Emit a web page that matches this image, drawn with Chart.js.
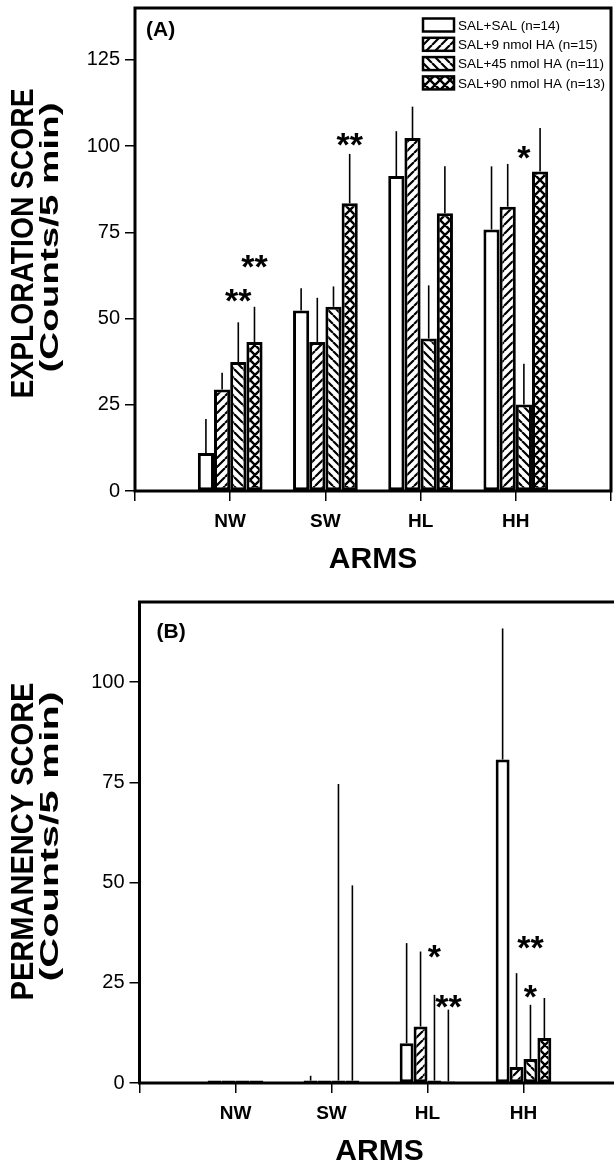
<!DOCTYPE html>
<html>
<head>
<meta charset="utf-8">
<script src="https://cdn.jsdelivr.net/npm/chart.js@4.4.0/dist/chart.umd.min.js"></script>
<style>
  html, body { margin: 0; padding: 0; background: #fff; overflow: hidden; width: 614px; height: 1166px; }
  canvas { position: absolute; left: 0; }
  #topChart { top: 0; }
  #bottomChart { top: 590px; }
</style>
</head>
<body>
<canvas id="topChart" width="640" height="590"></canvas>
<canvas id="bottomChart" width="640" height="576"></canvas>
<script>
// categories and groups
const arms = ['NW', 'SW', 'HL', 'HH'];
const groupLabels = ['SAL+SAL (n=14)', 'SAL+9 nmol HA (n=15)', 'SAL+45 nmol HA (n=11)', 'SAL+90 nmol HA (n=13)'];

// (A) exploration score, mean and upper error
const salSalExp = [11, 52.3, 91.3, 75.8];
const ha9Exp = [29.4, 43.2, 102.3, 82.4];
const ha45Exp = [37.4, 53.4, 44.2, 25.1];
const ha90Exp = [43.2, 83.4, 80.5, 92.6];
const salSalExpErr = [9.9, 6.5, 13, 18.3];
const ha9ExpErr = [4.9, 12.8, 9.1, 12.4];
const ha45ExpErr = [11.5, 5.9, 15.4, 11.8];
const ha90ExpErr = [10.2, 14.3, 13.6, 12.6];
const expTicks = [0, 25, 50, 75, 100, 125];

// (B) permanency score, mean and upper error
const salSalPerm = [0.6, 0.6, 9.9, 80.7];
const ha9Perm = [0.6, 0.6, 14.1, 4];
const ha45Perm = [0.6, 0.6, 0.6, 6];
const ha90Perm = [0.6, 0.6, 0.4, 11.2];
const salSalPermErr = [0, 1.2, 25, 32.7];
const ha9PermErr = [0, 0, 18.7, 23.4];
const ha45PermErr = [0, 74, 21.4, 13.5];
const ha90PermErr = [0, 48.7, 17.9, 10];
const permTicks = [0, 25, 50, 75, 100];

// significance marks: arm, group index, height in score units
const starsExp = [
  { arm: 'NW', group: 2, y: 56.6, text: '**' },
  { arm: 'NW', group: 3, y: 66.5, text: '**' },
  { arm: 'SW', group: 3, y: 102, text: '**' },
  { arm: 'HH', group: 2, y: 98, text: '*' }
];
const starsPerm = [
  { arm: 'HL', group: 2, y: 32.8, text: '*' },
  { arm: 'HL', group: 3, y: 20.3, text: '**' },
  { arm: 'HH', group: 2, y: 35, text: '**' },
  { arm: 'HH', group: 2, y: 22.8, text: '*' }
];

const FONT = '"Liberation Sans", Arial, Helvetica, sans-serif';
Chart.defaults.font.family = FONT;
Chart.defaults.color = '#000';

function hatch(kind) {
  const s = kind === 'cross' ? 10 : 9;
  const c = document.createElement('canvas');
  c.width = s; c.height = s;
  const g = c.getContext('2d');
  g.fillStyle = '#fff';
  g.fillRect(0, 0, s, s);
  g.strokeStyle = '#000';
  g.lineWidth = kind === 'cross' ? 2.4 : 2.2;
  g.beginPath();
  for (let k = -1; k <= 1; k++) {
    if (kind !== 'back') { g.moveTo(k * s, s); g.lineTo(k * s + s, 0); }
    if (kind !== 'fwd') { g.moveTo(k * s, 0); g.lineTo(k * s + s, s); }
  }
  g.stroke();
  return g.createPattern(c, 'repeat');
}
const fills = ['#ffffff', hatch('fwd'), hatch('back'), hatch('cross')];

function buildDatasets(series, errors) {
  return groupLabels.map((label, i) => ({
    label,
    data: [null, ...series[i], null],
    errorBars: [null, ...errors[i], null],
    backgroundColor: fills[i],
    borderColor: '#000',
    borderWidth: 3,
    borderSkipped: false
  }));
}

// plot frame
const framePlugin = {
  id: 'frame',
  afterDatasetsDraw(chart) {
    const { ctx, chartArea: a } = chart;
    ctx.save();
    ctx.strokeStyle = '#000';
    ctx.lineWidth = 3;
    ctx.strokeRect(a.left, a.top, a.right - a.left, a.bottom - a.top);
    ctx.restore();
  }
};

// upper error lines
const errorPlugin = {
  id: 'errorLines',
  afterDatasetsDraw(chart) {
    const ctx = chart.ctx, y = chart.scales.y;
    ctx.save();
    ctx.strokeStyle = '#000';
    ctx.lineWidth = 1.6;
    chart.data.datasets.forEach((ds, i) => {
      chart.getDatasetMeta(i).data.forEach((bar, j) => {
        const v = ds.data[j], e = ds.errorBars[j];
        if (v == null || !e) return;
        ctx.beginPath();
        ctx.moveTo(bar.x, y.getPixelForValue(v));
        ctx.lineTo(bar.x, y.getPixelForValue(v + e));
        ctx.stroke();
      });
    });
    ctx.restore();
  }
};

function starPlugin(items) {
  return {
    id: 'stars',
    afterDatasetsDraw(chart) {
      const ctx = chart.ctx, y = chart.scales.y;
      ctx.save();
      ctx.fillStyle = '#000';
      ctx.font = 'bold 34px ' + FONT;
      ctx.textAlign = 'center';
      ctx.textBaseline = 'alphabetic';
      items.forEach(s => {
        const bar = chart.getDatasetMeta(s.group).data[chart.data.labels.indexOf(s.arm)];
        const m = ctx.measureText(s.text);
        const cy = y.getPixelForValue(s.y);
        ctx.fillText(s.text, bar.x, cy + (m.actualBoundingBoxAscent - m.actualBoundingBoxDescent) / 2);
      });
      ctx.restore();
    }
  };
}

function legendPlugin(x, y, row) {
  return {
    id: 'boxLegend',
    afterDraw(chart) {
      const ctx = chart.ctx;
      ctx.save();
      chart.data.datasets.forEach((ds, i) => {
        const cy = y + i * row;
        ctx.fillStyle = ds.backgroundColor;
        ctx.fillRect(x, cy - 6.5, 31, 13);
        ctx.strokeStyle = '#000';
        ctx.lineWidth = 2.5;
        ctx.strokeRect(x, cy - 6.5, 31, 13);
        ctx.fillStyle = '#000';
        ctx.font = '13.5px ' + FONT;
        ctx.textBaseline = 'middle';
        ctx.fillText(ds.label, x + 35, cy + 1);
      });
      ctx.restore();
    }
  };
}

function vText(ctx, text, font, baseX, cy, len) {
  ctx.save();
  ctx.translate(baseX, cy);
  ctx.rotate(-Math.PI / 2);
  ctx.font = font;
  const w = ctx.measureText(text).width;
  ctx.scale(len / w, 1);
  ctx.textAlign = 'center';
  ctx.textBaseline = 'alphabetic';
  ctx.fillText(text, 0, 0);
  ctx.restore();
}

function titlePlugin(t) {
  return {
    id: 'titles',
    afterDraw(chart) {
      const { ctx, chartArea: a } = chart;
      ctx.save();
      ctx.fillStyle = '#000';
      const cy = (a.top + a.bottom) / 2;
      vText(ctx, t.line1, 'bold 31px ' + FONT, 33, cy + t.shift1, t.len1);
      vText(ctx, t.line2, 'bold 26px ' + FONT, 58, cy + t.shift2, t.len2);
      ctx.font = 'bold 30px ' + FONT;
      ctx.textAlign = 'center';
      ctx.textBaseline = 'alphabetic';
      const m = ctx.measureText('ARMS');
      ctx.fillText('ARMS', (a.left + a.right) / 2, a.bottom + 67 + m.actualBoundingBoxAscent / 2);
      ctx.font = 'bold 21px ' + FONT;
      ctx.textAlign = 'left';
      ctx.textBaseline = 'middle';
      ctx.fillText(t.panel, a.left + t.panelDx, a.top + t.panelDy);
      ctx.restore();
    }
  };
}

function makeChart(id, o) {
  return new Chart(document.getElementById(id), {
    type: 'bar',
    data: { labels: ['', ...arms, ''], datasets: buildDatasets(o.series, o.errors) },
    options: {
      responsive: false,
      animation: false,
      devicePixelRatio: 1,
      layout: { padding: o.padding },
      datasets: { bar: { categoryPercentage: o.catPct, barPercentage: 1 } },
      plugins: { legend: { display: false }, tooltip: { enabled: false } },
      scales: {
        x: {
          offset: false,
          ticks: { color: '#000', font: { size: 19, weight: 'bold' }, autoSkip: false, maxRotation: 0, padding: 9 },
          grid: { offset: false, drawOnChartArea: false, tickLength: 10, color: '#000', lineWidth: 1.5 },
          border: { display: false },
          afterFit(s) { s.height = o.xHeight; s.paddingLeft = 0; s.paddingRight = 0; }
        },
        y: {
          min: 0,
          max: o.yMax,
          afterBuildTicks(s) { s.ticks = o.ticks.map(v => ({ value: v })); },
          ticks: { color: '#000', font: { size: 20 }, padding: 5 },
          grid: { drawOnChartArea: false, tickLength: 10, color: '#000', lineWidth: 1.5 },
          border: { display: false },
          afterFit(s) { s.width = o.yWidth; s.paddingTop = 0; s.paddingBottom = 0; }
        }
      }
    },
    plugins: o.plugins
  });
}

makeChart('topChart', {
  series: [salSalExp, ha9Exp, ha45Exp, ha90Exp],
  errors: [salSalExpErr, ha9ExpErr, ha45ExpErr, ha90ExpErr],
  ticks: expTicks,
  yMax: 140,
  catPct: 0.68,
  padding: { top: 8, right: 29, left: 0, bottom: 0 },
  yWidth: 135,
  xHeight: 99,
  plugins: [errorPlugin, framePlugin, starPlugin(starsExp), legendPlugin(423, 25, 19.3),
    titlePlugin({ line1: 'EXPLORATION SCORE', line2: '(Counts/5 min)', len1: 310, len2: 270, shift1: -6, shift2: -12, panel: '(A)', panelDx: 11, panelDy: 22 })]
});

makeChart('bottomChart', {
  series: [salSalPerm, ha9Perm, ha45Perm, ha90Perm],
  errors: [salSalPermErr, ha9PermErr, ha45PermErr, ha90PermErr],
  ticks: permTicks,
  yMax: 120,
  catPct: 0.58,
  padding: { top: 12, right: 20.5, left: 0, bottom: 0 },
  yWidth: 139.5,
  xHeight: 83,
  plugins: [errorPlugin, framePlugin, starPlugin(starsPerm),
    titlePlugin({ line1: 'PERMANENCY SCORE', line2: '(Counts/5 min)', len1: 318, len2: 290, shift1: -1, shift2: -6, panel: '(B)', panelDx: 17, panelDy: 30 })]
});
</script>
</body>
</html>
